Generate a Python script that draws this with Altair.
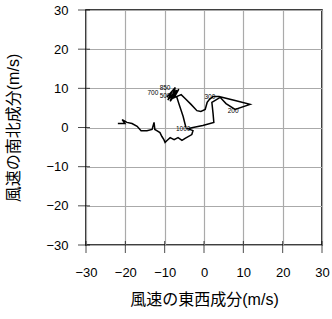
import altair as alt
import pandas as pd

# Hodograph path (u = east-west, v = north-south), m/s, in path order
u_vals = [-4.6, -5.3, -6.4, -6.9, -7.9, -7.0, -9.2, -8.1, -9.4, -7.3, -8.6, -6.4, -7.6,
          -5.8, -4.8, -3.3, -1.8, -0.8, 0.3, 0.8, 1.3, 2.3, 3.8, 7.9, 11.7, 7.9, 5.6,
          4.1, 2.0, 2.3, 2.5, -0.3, -2.8, -4.1, -2.8, -3.1, -4.8, -5.6, -6.6, -7.6,
          -8.6, -9.4, -9.9, -10.2, -10.7, -11.2, -12.0, -12.5, -12.7, -13.2, -14.5,
          -16.0, -17.0, -18.3, -19.6, -20.8, -20.1, -21.9]
v_vals = [0.0, 2.8, 6.1, 7.7, 8.2, 9.6, 7.0, 9.2, 7.8, 10.2, 6.7, 9.8, 7.6,
          8.4, 7.4, 5.9, 4.3, 4.1, 4.6, 6.4, 7.1, 7.9, 7.9, 6.9, 5.9, 4.6, 6.1,
          7.7, 6.4, 3.6, 1.3, 0.5, 0.0, -0.3, -0.8, -1.8, -2.8, -3.3, -2.6, -3.1,
          -2.6, -3.3, -3.8, -3.1, -2.3, -1.3, -0.8, -0.5, 1.3, -0.5, -0.8,
          -0.8, 0.3, 1.0, 1.3, 2.0, 1.0, 1.0]

# Pressure-level labels (hPa) and where they sit
level_names = ["1000", "850", "700", "500", "300", "200"]
level_u = [-5.3, -9.9, -13.0, -9.9, 1.5, 7.4]
level_v = [-0.5, 10.0, 8.8, 8.1, 7.9, 4.3]

tick_vals = [-30, -20, -10, 0, 10, 20, 30]

path = pd.DataFrame({"u": u_vals, "v": v_vals, "i": list(range(len(u_vals)))})
labels = pd.DataFrame({"name": level_names, "u": level_u, "v": level_v})
ticks_df = pd.DataFrame({"t": tick_vals, "edge": [-30] * len(tick_vals)})

xs = alt.Scale(domain=[-30, 30], nice=False)
ys = alt.Scale(domain=[-30, 30], nice=False)

minus_expr = "datum.value < 0 ? '\u2212' + abs(datum.value) : '' + datum.value"
title_font = "Liberation Sans, Noto Sans CJK JP"

x_axis = alt.Axis(values=tick_vals, grid=True, gridColor="#aaaaaa", gridWidth=1.2,
                  ticks=False, domain=False, labelFont="Liberation Sans", labelFontSize=13,
                  labelColor="black", labelPadding=21, labelFlush=False, labelOverlap=False,
                  labelExpr=minus_expr,
                  title="風速の東西成分(m/s)", titleFont=title_font, titleFontSize=16,
                  titleFontWeight="normal", titleColor="black", titleY=54,
                  titleBaseline="middle")
y_axis = alt.Axis(values=tick_vals, grid=True, gridColor="#aaaaaa", gridWidth=1.2,
                  ticks=False, domain=False, labelFont="Liberation Sans", labelFontSize=13,
                  labelColor="black", labelPadding=18, labelFlush=False, labelOverlap=False,
                  labelExpr=minus_expr,
                  title="風速の南北成分(m/s)", titleFont=title_font, titleFontSize=16,
                  titleFontWeight="normal", titleColor="black", titleX=-73,
                  titleBaseline="middle")

line = alt.Chart(path).mark_line(color="black", strokeWidth=1.5).encode(
    x=alt.X("u:Q", scale=xs, axis=x_axis),
    y=alt.Y("v:Q", scale=ys, axis=y_axis),
    order="i:Q",
)

text = alt.Chart(labels).mark_text(font="Liberation Sans", fontSize=6.5, color="black").encode(
    x=alt.X("u:Q", scale=xs, axis=x_axis),
    y=alt.Y("v:Q", scale=ys, axis=y_axis),
    text="name:N",
)

bottom_ticks = alt.Chart(ticks_df).mark_tick(orient="vertical", size=12, thickness=1,
                                             color="black", yOffset=2).encode(
    x=alt.X("t:Q", scale=xs, axis=x_axis),
    y=alt.Y("edge:Q", scale=ys, axis=y_axis),
)
left_ticks = alt.Chart(ticks_df).mark_tick(orient="horizontal", size=12, thickness=1,
                                           color="black", xOffset=-2).encode(
    x=alt.X("edge:Q", scale=xs, axis=x_axis),
    y=alt.Y("t:Q", scale=ys, axis=y_axis),
)

chart = alt.layer(line, text, bottom_ticks, left_ticks).properties(
    width=236, height=235,
    autosize=alt.AutoSizeParams(type="none"),
    padding={"left": 86, "top": 10, "right": 10, "bottom": 74},
    background="white",
).configure_view(stroke="black", strokeWidth=1.6)

chart.save("out.html", embed_options={"renderer": "svg", "actions": False})
